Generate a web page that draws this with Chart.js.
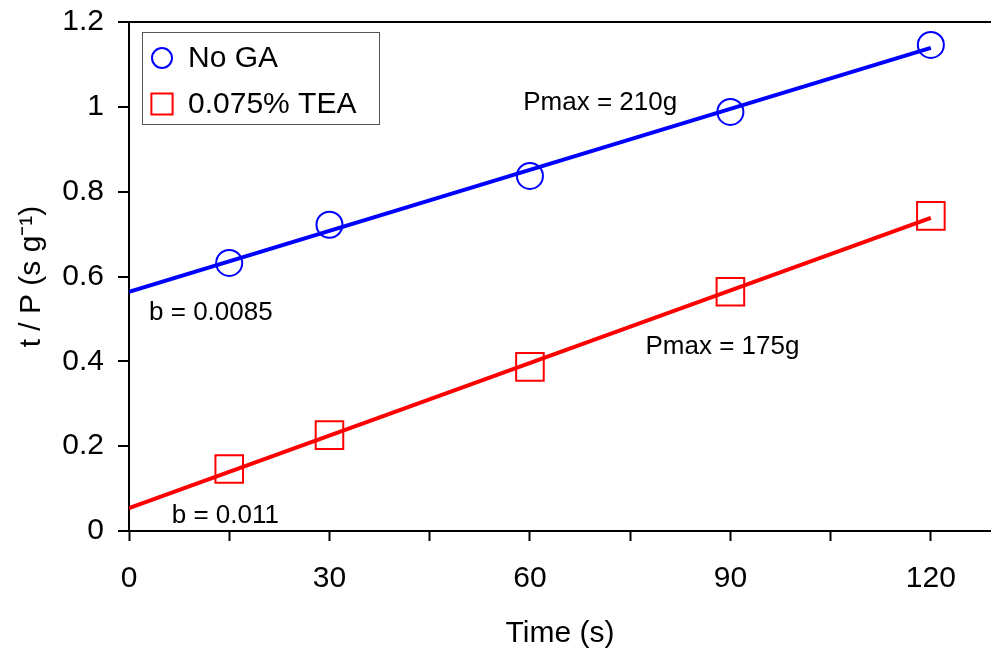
<!DOCTYPE html>
<html>
<head>
<meta charset="utf-8">
<title>t / P vs Time</title>
<script src="https://cdn.jsdelivr.net/npm/chart.js@4.4.1/dist/chart.umd.min.js"></script>
<style>
  html, body { margin: 0; padding: 0; background: #fff; }
  #wrap { width: 991px; height: 652px; }
</style>
</head>
<body>
<div id="wrap"><canvas id="myChart" width="991" height="652"></canvas></div>
<script>
// measured points
var times = [15, 30, 60, 90, 120];
var noGA = [0.632, 0.722, 0.837, 0.988, 1.146];
var tea = [0.146, 0.226, 0.387, 0.564, 0.743];

// fitted lines, read at t = 0 and t = 120
var fitTimes = [0, 120];
var noGAFit = [0.564, 1.139];
var teaFit = [0.054, 0.738];

var xTicks = [0, 30, 60, 90, 120];
var yTicks = [0, 0.2, 0.4, 0.6, 0.8, 1, 1.2];

// text notes on the plot (data coordinates)
var noteText = ['Pmax = 210g', 'b = 0.0085', 'Pmax = 175g', 'b = 0.011'];
var noteX = [59, 3, 77.3, 6.4];
var noteY = [1.009, 0.514, 0.434, 0.035];

var FONT = '"Liberation Sans", Arial, Helvetica, sans-serif';

function pts(xs, ys) {
    return xs.map(function(x, i) { return { x: x, y: ys[i] }; });
}

var notesPlugin = {
    id: 'notes',
    afterDatasetsDraw: function(chart) {
        var ctx = chart.ctx;
        var xs = chart.scales.x, ys = chart.scales.y;
        ctx.save();
        ctx.fillStyle = '#000';
        ctx.font = '26px ' + FONT;
        ctx.textAlign = 'left';
        ctx.textBaseline = 'middle';
        noteText.forEach(function(t, i) {
            ctx.fillText(t, xs.getPixelForValue(noteX[i]), ys.getPixelForValue(noteY[i]));
        });
        ctx.restore();
    }
};

// legend box in the top-left corner of the plot
var legendPlugin = {
    id: 'boxLegend',
    afterDraw: function(chart) {
        var ctx = chart.ctx;
        var a = chart.chartArea;
        var bx = a.left + 13, by = a.top + 10, bw = 237, bh = 92;
        ctx.save();
        ctx.fillStyle = '#fff';
        ctx.fillRect(bx, by, bw, bh);
        ctx.strokeStyle = '#555';
        ctx.lineWidth = 1;
        ctx.strokeRect(bx + 0.5, by + 0.5, bw, bh);
        var items = [chart.data.datasets[2], chart.data.datasets[3]];
        items.forEach(function(ds, i) {
            var cy = by + 26 + i * 46;
            ctx.strokeStyle = ds.borderColor;
            ctx.fillStyle = 'rgba(0,0,0,0)';
            ctx.lineWidth = 2;
            Chart.helpers.drawPoint(ctx, {
                pointStyle: ds.pointStyle,
                radius: ds.pointStyle === 'rect' ? 15 : 10,
                borderWidth: 2
            }, bx + 20, cy);
            ctx.fillStyle = '#000';
            ctx.font = '30px ' + FONT;
            ctx.textAlign = 'left';
            ctx.textBaseline = 'middle';
            ctx.fillText(ds.label, bx + 46, cy + 1);
        });
        ctx.restore();
    }
};

var ctx = document.getElementById('myChart').getContext('2d');
var chart = new Chart(ctx, {
    type: 'scatter',
    data: {
        datasets: [{
            label: 'No GA fit',
            data: pts(fitTimes, noGAFit),
            showLine: true,
            borderColor: '#0000ff',
            borderWidth: 4,
            pointRadius: 0
        }, {
            label: 'TEA fit',
            data: pts(fitTimes, teaFit),
            showLine: true,
            borderColor: '#ff0000',
            borderWidth: 4,
            pointRadius: 0
        }, {
            label: 'No GA',
            data: pts(times, noGA),
            pointStyle: 'circle',
            pointRadius: 13,
            borderColor: '#0000ff',
            backgroundColor: 'rgba(0,0,0,0)',
            borderWidth: 2
        }, {
            label: '0.075% TEA',
            data: pts(times, tea),
            pointStyle: 'rect',
            pointRadius: 19.5,
            borderColor: '#ff0000',
            backgroundColor: 'rgba(0,0,0,0)',
            borderWidth: 2
        }]
    },
    options: {
        responsive: false,
        animation: false,
        devicePixelRatio: 1,
        layout: { autoPadding: false, padding: { top: 22, right: 0, left: 0, bottom: 0 } },
        plugins: {
            legend: { display: false },
            tooltip: { enabled: false }
        },
        scales: {
            x: {
                type: 'linear',
                min: 0,
                max: 129,
                afterFit: function(s) {
                    s.height = 121;
                    s.paddingLeft = 0;
                    s.paddingRight = 0;
                },
                afterBuildTicks: function(s) {
                    s.ticks = [0, 15, 30, 45, 60, 75, 90, 105, 120].map(function(v) { return { value: v }; });
                },
                ticks: {
                    color: '#000',
                    font: { family: FONT, size: 30 },
                    padding: 20,
                    maxRotation: 0,
                    autoSkip: false,
                    callback: function(v) { return xTicks.indexOf(v) >= 0 ? String(v) : ''; }
                },
                grid: {
                    drawOnChartArea: false,
                    drawTicks: true,
                    tickLength: 10,
                    tickWidth: 2,
                    tickColor: '#000'
                },
                border: { display: true, color: '#000', width: 2 },
                title: {
                    display: true,
                    text: 'Time (s)',
                    color: '#000',
                    font: { family: FONT, size: 30 },
                    padding: { top: 4, bottom: 0 }
                }
            },
            y: {
                type: 'linear',
                min: 0,
                max: 1.2,
                afterFit: function(s) {
                    s.width = 129;
                    s.paddingTop = 0;
                    s.paddingBottom = 0;
                },
                afterBuildTicks: function(s) {
                    s.ticks = yTicks.map(function(v) { return { value: v }; });
                },
                ticks: {
                    color: '#000',
                    font: { family: FONT, size: 30 },
                    padding: 14,
                    callback: function(v) { return String(Math.round(v * 10) / 10); }
                },
                grid: {
                    drawOnChartArea: true,
                    drawTicks: true,
                    tickLength: 11,
                    lineWidth: 2,
                    color: function(c) { return c.tick && c.tick.value === 1.2 ? '#000' : 'rgba(0,0,0,0)'; },
                    tickColor: '#000',
                    tickWidth: 2
                },
                border: { display: true, color: '#000', width: 2 },
                title: {
                    display: true,
                    text: 't / P (s g\u207B\u00B9)',
                    color: '#000',
                    font: { family: FONT, size: 30 },
                    padding: { top: 14, bottom: 4 }
                }
            }
        }
    },
    plugins: [notesPlugin, legendPlugin]
});
</script>
</body>
</html>
